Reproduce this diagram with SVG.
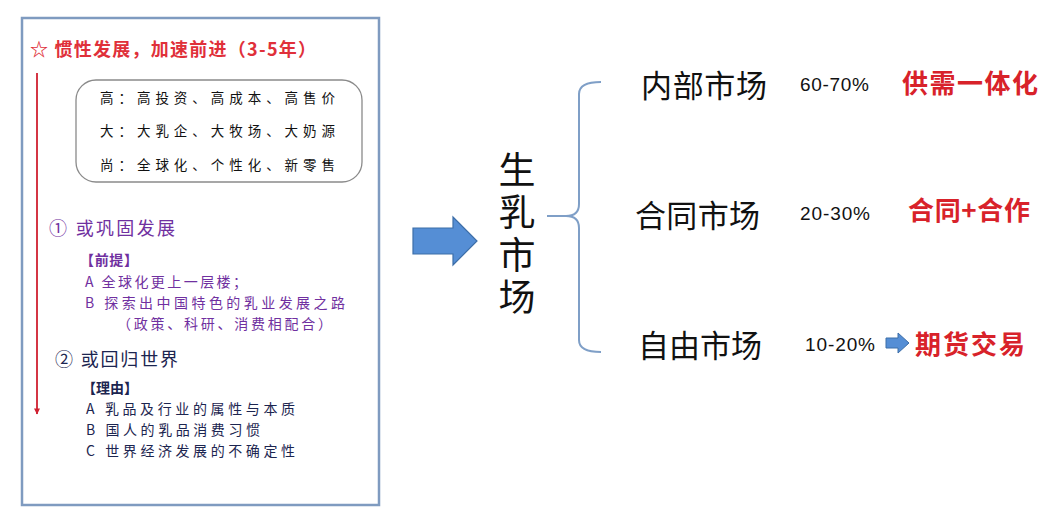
<svg xmlns="http://www.w3.org/2000/svg" width="1064" height="515" viewBox="0 0 1064 515">
<style>
text{font-family:"Noto Sans CJK SC","Liberation Sans",sans-serif;dominant-baseline:central}
.box{font-size:13.5px;fill:#111}
.pur{fill:#7030a0}
.nav{fill:#1c2550}
.sub{font-size:14px}
.hd{font-size:18px}
.mk{font-size:31px;fill:#111}
.pct{font-family:"Liberation Sans",Arial,sans-serif;font-size:19px;fill:#111}
.red{font-size:26px;fill:#d8222a;font-weight:bold}
.vt{font-size:37px;fill:#111;writing-mode:vertical-rl;letter-spacing:5.5px;dominant-baseline:auto}
.b{font-size:14px;font-weight:bold}
</style>
<defs>
<marker id="ra" viewBox="0 0 10 10" refX="9" refY="5" markerWidth="7" markerHeight="6" orient="auto" markerUnits="userSpaceOnUse">
<path d="M0,0 L10,5 L0,10 Z" fill="#d02030"/>
</marker>
</defs>
<rect width="1064" height="515" fill="#ffffff"/>
<g id="panel">
<rect x="22" y="18" width="357" height="487" fill="none" stroke="#7f9bc0" stroke-width="2.5"/>
<text id="title" x="30" y="48" font-size="18" font-weight="bold" fill="#e0303a" textLength="286" lengthAdjust="spacing">☆ 惯性发展，加速前进（3-5年）</text>
</g>
<g id="box-node">
<rect x="76" y="80" width="286" height="102" rx="20" ry="20" fill="#ffffff" stroke="#8a8a8a" stroke-width="1.3"/>
<text class="box" x="100" y="97" textLength="235" lengthAdjust="spacing">高：高投资、高成本、高售价</text>
<text class="box" x="100" y="130" textLength="235" lengthAdjust="spacing">大：大乳企、大牧场、大奶源</text>
<text class="box" x="100" y="164" textLength="235" lengthAdjust="spacing">尚：全球化、个性化、新零售</text>
</g>
<g id="option1">
<text class="hd pur" x="49" y="227" textLength="126" lengthAdjust="spacing">① 或巩固发展</text>
<text class="b pur" x="80" y="259" textLength="58" lengthAdjust="spacing">【前提】</text>
<text class="sub pur" x="85" y="281" textLength="162" lengthAdjust="spacing">A 全球化更上一层楼；</text>
<text class="sub pur" x="85" y="302" textLength="260" lengthAdjust="spacing">B 探索出中国特色的乳业发展之路</text>
<text class="sub pur" x="117" y="323" textLength="215" lengthAdjust="spacing">（政策、科研、消费相配合）</text>
</g>
<g id="option2">
<text class="hd nav" x="55" y="358" textLength="123" lengthAdjust="spacing">② 或回归世界</text>
<text class="b nav" x="82" y="387" textLength="56" lengthAdjust="spacing">【理由】</text>
<text class="sub nav" x="86" y="408" textLength="209" lengthAdjust="spacing">A 乳品及行业的属性与本质</text>
<text class="sub nav" x="86" y="429" textLength="174" lengthAdjust="spacing">B 国人的乳品消费习惯</text>
<text class="sub nav" x="86" y="450" textLength="209" lengthAdjust="spacing">C 世界经济发展的不确定性</text>
</g>
<g id="milk-market">
<text class="vt" x="517" y="151">生乳市场</text>
</g>
<g id="internal">
<text class="mk" x="641" y="83" textLength="126" lengthAdjust="spacing">内部市场</text>
<text class="pct" x="800" y="84" textLength="69" lengthAdjust="spacing">60-70%</text>
<text class="red" x="902" y="81" textLength="136" lengthAdjust="spacing">供需一体化</text>
</g>
<g id="contract">
<text class="mk" x="635" y="213" textLength="125" lengthAdjust="spacing">合同市场</text>
<text class="pct" x="800" y="213" textLength="70" lengthAdjust="spacing">20-30%</text>
<text class="red" x="908" y="208" textLength="122" lengthAdjust="spacing">合同+合作</text>
</g>
<g id="free">
<text class="mk" x="638" y="343" textLength="124" lengthAdjust="spacing">自由市场</text>
<text class="pct" x="805" y="344" textLength="70" lengthAdjust="spacing">10-20%</text>
<text class="red" x="915" y="342" textLength="110" lengthAdjust="spacing">期货交易</text>
</g>
<g id="connectors">
<line x1="37" y1="73" x2="37" y2="414" stroke="#d02030" stroke-width="1.8" marker-end="url(#ra)"/>
<path d="M413,228 L453,228 L453,217 L477,241 L453,265 L453,254 L413,254 Z" fill="#558ed5" stroke="#3d6ea8" stroke-width="1.2"/>
<path d="M601,82 Q579,82 579,94 L579,204 Q579,216 566,216 L547,216 M566,216 Q579,216 579,228 L579,340 Q579,352 601,352" fill="none" stroke="#7f9fc7" stroke-width="2"/>
<path d="M886,338 L898,338 L898,333 L909,343 L898,353 L898,348 L886,348 Z" fill="#558ed5" stroke="#3d6ea8" stroke-width="1"/>
</g>
</svg>
